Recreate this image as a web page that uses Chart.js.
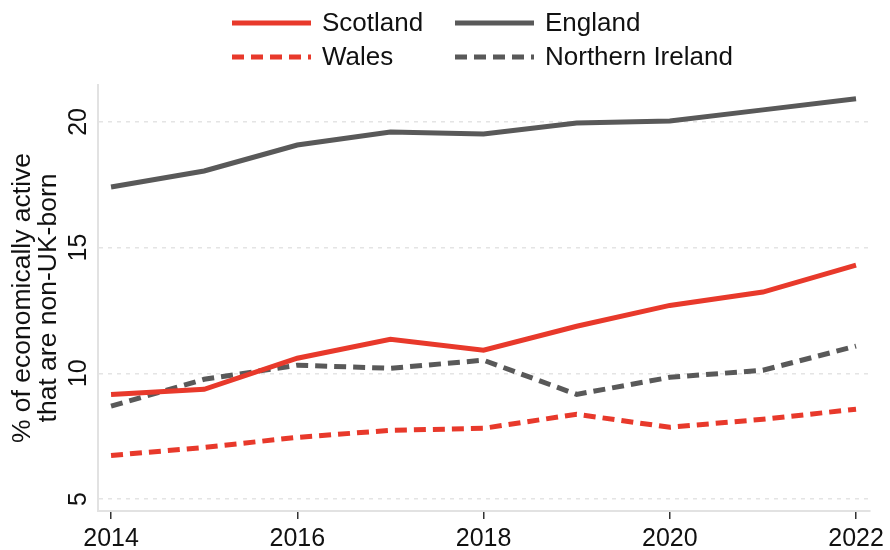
<!DOCTYPE html>
<html>
<head>
<meta charset="utf-8">
<script src="https://cdn.jsdelivr.net/npm/chart.js@4.4.1/dist/chart.umd.min.js"></script>
<style>
  html, body { margin: 0; padding: 0; background: #fff; }
</style>
</head>
<body>
<canvas id="chart" width="890" height="550"></canvas>
<script>
var years = [2014, 2015, 2016, 2017, 2018, 2019, 2020, 2021, 2022];
var scotland = [9.16, 9.36, 10.6, 11.35, 10.92, 11.87, 12.7, 13.23, 14.3];
var england = [17.41, 18.05, 19.08, 19.6, 19.52, 19.96, 20.04, 20.48, 20.92];
var wales = [6.73, 7.05, 7.45, 7.73, 7.81, 8.37, 7.85, 8.17, 8.57];
var northernIreland = [8.69, 9.76, 10.32, 10.2, 10.52, 9.16, 9.84, 10.12, 11.08];
var xTicks = [2014, 2016, 2018, 2020, 2022];
var yTicks = [5, 10, 15, 20];

var red = '#e8392b';
var grey = '#595959';
var font = "'Liberation Sans', Arial, sans-serif";

function pts(vals) {
  return years.map(function (yr, i) { return {x: yr, y: vals[i]}; });
}

var legendItems = [
  {text: 'Scotland', color: red, dash: [], col: 0, row: 0},
  {text: 'England', color: grey, dash: [], col: 1, row: 0},
  {text: 'Wales', color: red, dash: [12, 7], col: 0, row: 1},
  {text: 'Northern Ireland', color: grey, dash: [12, 7], col: 1, row: 1}
];

// two-column legend like the original
var legendPlugin = {
  id: 'twoColLegend',
  afterDraw: function (chart) {
    var ctx = chart.ctx;
    var colX = [232, 455];
    var rowY = [23, 57];
    ctx.save();
    legendItems.forEach(function (it) {
      var x = colX[it.col], y = rowY[it.row];
      ctx.strokeStyle = it.color;
      ctx.lineWidth = 5;
      ctx.lineCap = 'butt';
      ctx.setLineDash(it.dash);
      ctx.beginPath();
      ctx.moveTo(x, y);
      ctx.lineTo(x + 79, y);
      ctx.stroke();
      ctx.setLineDash([]);
      ctx.fillStyle = '#111';
      ctx.font = '26px ' + font;
      ctx.textBaseline = 'middle';
      ctx.textAlign = 'left';
      ctx.fillText(it.text, x + 90, y + 1);
    });
    ctx.restore();
  }
};

new Chart(document.getElementById('chart'), {
  type: 'line',
  data: {
    datasets: [
      {label: 'Scotland', data: pts(scotland), borderColor: red, borderWidth: 5},
      {label: 'England', data: pts(england), borderColor: grey, borderWidth: 5},
      {label: 'Wales', data: pts(wales), borderColor: red, borderWidth: 5, borderDash: [12, 7]},
      {label: 'Northern Ireland', data: pts(northernIreland), borderColor: grey, borderWidth: 5, borderDash: [12, 7]}
    ]
  },
  options: {
    responsive: false,
    devicePixelRatio: 1,
    animation: false,
    elements: {
      point: {radius: 0},
      line: {tension: 0, borderCapStyle: 'butt', borderJoinStyle: 'miter'}
    },
    layout: {padding: {top: 85, right: 20, left: 0, bottom: 0}},
    plugins: {
      legend: {display: false},
      tooltip: {enabled: false}
    },
    scales: {
      x: {
        type: 'linear',
        min: 2013.86,
        max: 2022.15,
        afterBuildTicks: function (scale) {
          scale.ticks = xTicks.map(function (v) { return {value: v}; });
        },
        afterFit: function (scale) { scale.height = 39; },
        grid: {drawOnChartArea: false, drawTicks: true, tickLength: 8, color: '#333', lineWidth: 1.5},
        border: {color: '#e2e2e2', width: 2},
        ticks: {
          font: {family: font, size: 25},
          color: '#111',
          padding: 5,
          maxRotation: 0,
          callback: function (v) { return String(v); }
        }
      },
      y: {
        min: 4.52,
        max: 21.47,
        afterBuildTicks: function (scale) {
          scale.ticks = yTicks.map(function (v) { return {value: v}; });
        },
        afterFit: function (scale) { scale.width = 98; },
        grid: {drawTicks: false, tickLength: 0, color: '#e4e4e4', lineWidth: 1.5},
        border: {color: '#e2e2e2', width: 2, dash: [4, 5]},
        ticks: {
          font: {family: font, size: 25},
          color: '#111',
          padding: 5,
          minRotation: 90,
          maxRotation: 90,
          crossAlign: 'center'
        },
        title: {
          display: true,
          text: ['% of economically active', 'that are non-UK-born'],
          font: {family: font, size: 26.5, lineHeight: 1.0},
          color: '#111',
          padding: {top: 9, bottom: 0}
        }
      }
    }
  },
  plugins: [legendPlugin]
});
</script>
</body>
</html>
